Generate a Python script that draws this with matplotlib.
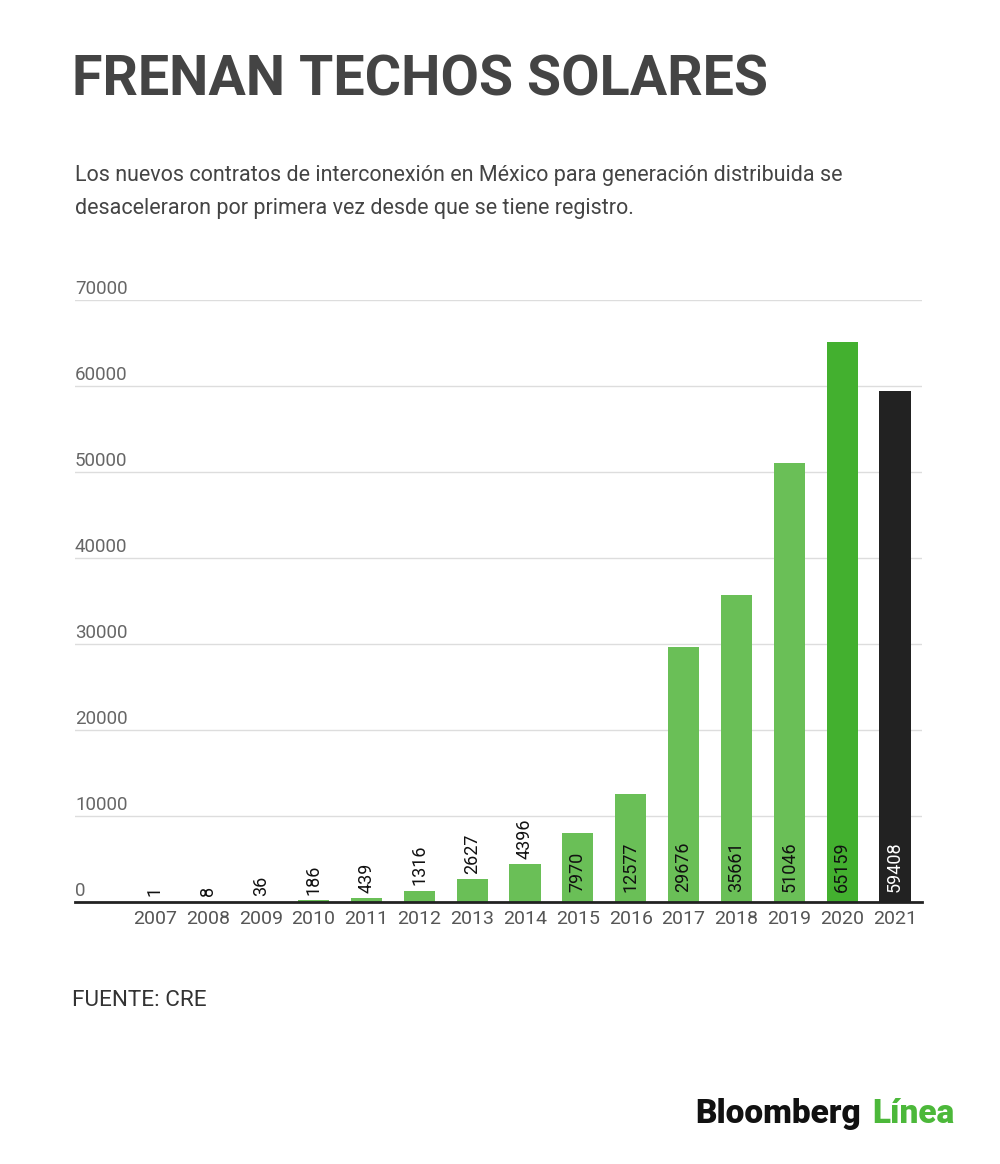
import matplotlib
matplotlib.use("Agg")
import matplotlib.pyplot as plt

years = ["2007", "2008", "2009", "2010", "2011", "2012", "2013", "2014",
         "2015", "2016", "2017", "2018", "2019", "2020", "2021"]
contracts = [1, 8, 36, 186, 439, 1316, 2627, 4396, 7970, 12577, 29676,
             35661, 51046, 65159, 59408]
yticks = [0, 10000, 20000, 30000, 40000, 50000, 60000, 70000]

title = "FRENAN TECHOS SOLARES"
subtitle_lines = ["Los nuevos contratos de interconexión en México para generación distribuida se",
                  "desaceleraron por primera vez desde que se tiene registro."]
source = "FUENTE: CRE"

plt.rcParams['font.family'] = ['Roboto', 'DejaVu Sans']

fig = plt.figure(figsize=(10, 11.64), dpi=100)
fig.patch.set_facecolor("white")
ax = fig.add_axes([0.075, 1 - 902 / 1164, 0.847, (902 - 300) / 1164])

colors = []
for i, v in enumerate(contracts):
    if i == len(contracts) - 1:
        colors.append("#222222")
    elif i == len(contracts) - 2:
        colors.append("#43b02f")
    else:
        colors.append("#6abf57")

x = list(range(len(years)))
bars = ax.bar(x, contracts, width=0.59, color=colors, zorder=3)

ax.set_xlim(-1.513, 14.51)
ax.set_ylim(0, 70000)
ax.set_yticks(yticks)
ax.yaxis.grid(True, color="#dddddd", linewidth=1, zorder=0)
ax.set_yticklabels([])
ax.tick_params(axis="y", length=0)
ax.tick_params(axis="x", length=0, pad=6)
ax.set_xticks(x)
ax.set_xticklabels(years, fontsize=14, color="#555555")
for s in ["top", "right", "left"]:
    ax.spines[s].set_visible(False)
ax.spines["bottom"].set_color("#222222")
ax.spines["bottom"].set_linewidth(2)
ax.spines["bottom"].set_zorder(4)

for t in yticks:
    ax.annotate(str(t), xy=(0, t), xycoords=("axes fraction", "data"),
                xytext=(0, 4), textcoords="offset points",
                ha="left", va="baseline", fontsize=13.5, color="#666666")

for i, (xi, v) in enumerate(zip(x, contracts)):
    if v >= 7000:
        tc = "white" if i == len(contracts) - 1 else "#111111"
        ax.annotate(str(v), xy=(xi, 0), xytext=(0, 7), textcoords="offset points",
                    rotation=90, ha="center", va="bottom", fontsize=13,
                    color=tc, zorder=5)
    else:
        ax.annotate(str(v), xy=(xi, v), xytext=(0, 4), textcoords="offset points",
                    rotation=90, ha="center", va="bottom", fontsize=13,
                    color="#111111", zorder=5)

fig.text(0.072, 1 - 96 / 1164, title, fontsize=40.1, fontweight="bold",
         color="#444444", ha="left", va="baseline")
for k, (line, yb) in enumerate(zip(subtitle_lines, [181, 214])):
    fig.text(0.075, 1 - yb / 1164, line, fontsize=15.5, color="#444444",
             ha="left", va="baseline")
fig.text(0.072, 1 - 1006 / 1164, source, fontsize=16.2, color="#333333",
         ha="left", va="baseline")

t1 = fig.text(0.695, 1 - 1123 / 1164, "Bloomberg", fontsize=24, fontweight="heavy",
              color="#111111", ha="left", va="baseline")
fig.canvas.draw()
bb = t1.get_window_extent()
fig.text(bb.x1 / 1000 + 0.011, 1 - 1123 / 1164, "Línea", fontsize=24, fontweight="heavy",
         color="#4cb83a", ha="left", va="baseline")

fig.savefig("out.png", dpi=100, facecolor="white")
